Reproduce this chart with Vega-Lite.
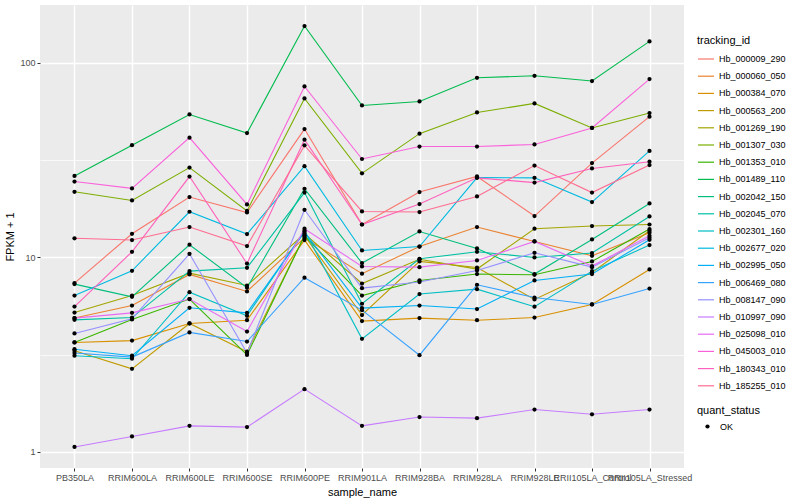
{
  "$schema": "https://vega.github.io/schema/vega-lite/v6.json",
  "width": 644,
  "height": 463,
  "autosize": {"type": "none"},
  "padding": {"left": 40, "top": 5, "right": 116, "bottom": 32},
  "background": "white",
  "config": {
    "font": "Liberation Sans",
    "view": {"fill": "#EBEBEB", "stroke": null},
    "axis": {"domain": false, "tickColor": "#333333", "tickSize": 3, "labelColor": "#4D4D4D", "labelFontSize": 9, "titleFontSize": 11, "titleColor": "#000000", "titleFontWeight": "normal", "gridColor": "#FFFFFF", "labelPadding": 2},
    "legend": {"titleFontSize": 11, "titleFontWeight": "normal", "titleColor": "#000000", "labelFontSize": 9, "labelColor": "#000000", "padding": 0}
  },
  "data": {"values": [
    {"tracking_id":"Hb_000009_290","sample_name":"PB350LA","FPKM":7.37,"quant_status":"OK"},
    {"tracking_id":"Hb_000009_290","sample_name":"RRIM600LA","FPKM":13.21,"quant_status":"OK"},
    {"tracking_id":"Hb_000009_290","sample_name":"RRIM600LE","FPKM":20.39,"quant_status":"OK"},
    {"tracking_id":"Hb_000009_290","sample_name":"RRIM600SE","FPKM":16.99,"quant_status":"OK"},
    {"tracking_id":"Hb_000009_290","sample_name":"RRIM600PE","FPKM":45.6,"quant_status":"OK"},
    {"tracking_id":"Hb_000009_290","sample_name":"RRIM901LA","FPKM":14.74,"quant_status":"OK"},
    {"tracking_id":"Hb_000009_290","sample_name":"RRIM928BA","FPKM":21.64,"quant_status":"OK"},
    {"tracking_id":"Hb_000009_290","sample_name":"RRIM928LA","FPKM":26.03,"quant_status":"OK"},
    {"tracking_id":"Hb_000009_290","sample_name":"RRIM928LE","FPKM":16.29,"quant_status":"OK"},
    {"tracking_id":"Hb_000009_290","sample_name":"RRII105LA_Control","FPKM":30.5,"quant_status":"OK"},
    {"tracking_id":"Hb_000009_290","sample_name":"RRII105LA_Stressed","FPKM":52.8,"quant_status":"OK"},

    {"tracking_id":"Hb_000060_050","sample_name":"PB350LA","FPKM":4.87,"quant_status":"OK"},
    {"tracking_id":"Hb_000060_050","sample_name":"RRIM600LA","FPKM":5.65,"quant_status":"OK"},
    {"tracking_id":"Hb_000060_050","sample_name":"RRIM600LE","FPKM":8.16,"quant_status":"OK"},
    {"tracking_id":"Hb_000060_050","sample_name":"RRIM600SE","FPKM":6.67,"quant_status":"OK"},
    {"tracking_id":"Hb_000060_050","sample_name":"RRIM600PE","FPKM":12.6,"quant_status":"OK"},
    {"tracking_id":"Hb_000060_050","sample_name":"RRIM901LA","FPKM":8.23,"quant_status":"OK"},
    {"tracking_id":"Hb_000060_050","sample_name":"RRIM928BA","FPKM":11.36,"quant_status":"OK"},
    {"tracking_id":"Hb_000060_050","sample_name":"RRIM928LA","FPKM":14.3,"quant_status":"OK"},
    {"tracking_id":"Hb_000060_050","sample_name":"RRIM928LE","FPKM":12.06,"quant_status":"OK"},
    {"tracking_id":"Hb_000060_050","sample_name":"RRII105LA_Control","FPKM":10.18,"quant_status":"OK"},
    {"tracking_id":"Hb_000060_050","sample_name":"RRII105LA_Stressed","FPKM":13.37,"quant_status":"OK"},

    {"tracking_id":"Hb_000384_070","sample_name":"PB350LA","FPKM":3.65,"quant_status":"OK"},
    {"tracking_id":"Hb_000384_070","sample_name":"RRIM600LA","FPKM":3.73,"quant_status":"OK"},
    {"tracking_id":"Hb_000384_070","sample_name":"RRIM600LE","FPKM":4.57,"quant_status":"OK"},
    {"tracking_id":"Hb_000384_070","sample_name":"RRIM600SE","FPKM":4.75,"quant_status":"OK"},
    {"tracking_id":"Hb_000384_070","sample_name":"RRIM600PE","FPKM":12.26,"quant_status":"OK"},
    {"tracking_id":"Hb_000384_070","sample_name":"RRIM901LA","FPKM":4.70,"quant_status":"OK"},
    {"tracking_id":"Hb_000384_070","sample_name":"RRIM928BA","FPKM":4.87,"quant_status":"OK"},
    {"tracking_id":"Hb_000384_070","sample_name":"RRIM928LA","FPKM":4.75,"quant_status":"OK"},
    {"tracking_id":"Hb_000384_070","sample_name":"RRIM928LE","FPKM":4.90,"quant_status":"OK"},
    {"tracking_id":"Hb_000384_070","sample_name":"RRII105LA_Control","FPKM":5.72,"quant_status":"OK"},
    {"tracking_id":"Hb_000384_070","sample_name":"RRII105LA_Stressed","FPKM":8.66,"quant_status":"OK"},

    {"tracking_id":"Hb_000563_200","sample_name":"PB350LA","FPKM":3.31,"quant_status":"OK"},
    {"tracking_id":"Hb_000563_200","sample_name":"RRIM600LA","FPKM":2.67,"quant_status":"OK"},
    {"tracking_id":"Hb_000563_200","sample_name":"RRIM600LE","FPKM":4.57,"quant_status":"OK"},
    {"tracking_id":"Hb_000563_200","sample_name":"RRIM600SE","FPKM":3.27,"quant_status":"OK"},
    {"tracking_id":"Hb_000563_200","sample_name":"RRIM600PE","FPKM":12.9,"quant_status":"OK"},
    {"tracking_id":"Hb_000563_200","sample_name":"RRIM901LA","FPKM":5.05,"quant_status":"OK"},
    {"tracking_id":"Hb_000563_200","sample_name":"RRIM928BA","FPKM":9.52,"quant_status":"OK"},
    {"tracking_id":"Hb_000563_200","sample_name":"RRIM928LA","FPKM":8.86,"quant_status":"OK"},
    {"tracking_id":"Hb_000563_200","sample_name":"RRIM928LE","FPKM":6.07,"quant_status":"OK"},
    {"tracking_id":"Hb_000563_200","sample_name":"RRII105LA_Control","FPKM":8.35,"quant_status":"OK"},
    {"tracking_id":"Hb_000563_200","sample_name":"RRII105LA_Stressed","FPKM":13.68,"quant_status":"OK"},

    {"tracking_id":"Hb_001269_190","sample_name":"PB350LA","FPKM":5.20,"quant_status":"OK"},
    {"tracking_id":"Hb_001269_190","sample_name":"RRIM600LA","FPKM":6.36,"quant_status":"OK"},
    {"tracking_id":"Hb_001269_190","sample_name":"RRIM600LE","FPKM":8.29,"quant_status":"OK"},
    {"tracking_id":"Hb_001269_190","sample_name":"RRIM600SE","FPKM":7.16,"quant_status":"OK"},
    {"tracking_id":"Hb_001269_190","sample_name":"RRIM600PE","FPKM":13.21,"quant_status":"OK"},
    {"tracking_id":"Hb_001269_190","sample_name":"RRIM901LA","FPKM":7.33,"quant_status":"OK"},
    {"tracking_id":"Hb_001269_190","sample_name":"RRIM928BA","FPKM":9.77,"quant_status":"OK"},
    {"tracking_id":"Hb_001269_190","sample_name":"RRIM928LA","FPKM":8.70,"quant_status":"OK"},
    {"tracking_id":"Hb_001269_190","sample_name":"RRIM928LE","FPKM":14.02,"quant_status":"OK"},
    {"tracking_id":"Hb_001269_190","sample_name":"RRII105LA_Control","FPKM":14.47,"quant_status":"OK"},
    {"tracking_id":"Hb_001269_190","sample_name":"RRII105LA_Stressed","FPKM":14.74,"quant_status":"OK"},

    {"tracking_id":"Hb_001307_030","sample_name":"PB350LA","FPKM":21.7,"quant_status":"OK"},
    {"tracking_id":"Hb_001307_030","sample_name":"RRIM600LA","FPKM":19.6,"quant_status":"OK"},
    {"tracking_id":"Hb_001307_030","sample_name":"RRIM600LE","FPKM":28.9,"quant_status":"OK"},
    {"tracking_id":"Hb_001307_030","sample_name":"RRIM600SE","FPKM":17.3,"quant_status":"OK"},
    {"tracking_id":"Hb_001307_030","sample_name":"RRIM600PE","FPKM":65.5,"quant_status":"OK"},
    {"tracking_id":"Hb_001307_030","sample_name":"RRIM901LA","FPKM":27.0,"quant_status":"OK"},
    {"tracking_id":"Hb_001307_030","sample_name":"RRIM928BA","FPKM":43.2,"quant_status":"OK"},
    {"tracking_id":"Hb_001307_030","sample_name":"RRIM928LA","FPKM":55.5,"quant_status":"OK"},
    {"tracking_id":"Hb_001307_030","sample_name":"RRIM928LE","FPKM":61.8,"quant_status":"OK"},
    {"tracking_id":"Hb_001307_030","sample_name":"RRII105LA_Control","FPKM":46.2,"quant_status":"OK"},
    {"tracking_id":"Hb_001307_030","sample_name":"RRII105LA_Stressed","FPKM":55.1,"quant_status":"OK"},

    {"tracking_id":"Hb_001353_010","sample_name":"PB350LA","FPKM":3.65,"quant_status":"OK"},
    {"tracking_id":"Hb_001353_010","sample_name":"RRIM600LA","FPKM":4.79,"quant_status":"OK"},
    {"tracking_id":"Hb_001353_010","sample_name":"RRIM600LE","FPKM":6.10,"quant_status":"OK"},
    {"tracking_id":"Hb_001353_010","sample_name":"RRIM600SE","FPKM":3.15,"quant_status":"OK"},
    {"tracking_id":"Hb_001353_010","sample_name":"RRIM600PE","FPKM":12.9,"quant_status":"OK"},
    {"tracking_id":"Hb_001353_010","sample_name":"RRIM901LA","FPKM":6.36,"quant_status":"OK"},
    {"tracking_id":"Hb_001353_010","sample_name":"RRIM928BA","FPKM":7.60,"quant_status":"OK"},
    {"tracking_id":"Hb_001353_010","sample_name":"RRIM928LA","FPKM":8.20,"quant_status":"OK"},
    {"tracking_id":"Hb_001353_010","sample_name":"RRIM928LE","FPKM":8.13,"quant_status":"OK"},
    {"tracking_id":"Hb_001353_010","sample_name":"RRII105LA_Control","FPKM":9.52,"quant_status":"OK"},
    {"tracking_id":"Hb_001353_010","sample_name":"RRII105LA_Stressed","FPKM":13.96,"quant_status":"OK"},

    {"tracking_id":"Hb_001489_110","sample_name":"PB350LA","FPKM":26.2,"quant_status":"OK"},
    {"tracking_id":"Hb_001489_110","sample_name":"RRIM600LA","FPKM":37.7,"quant_status":"OK"},
    {"tracking_id":"Hb_001489_110","sample_name":"RRIM600LE","FPKM":54.2,"quant_status":"OK"},
    {"tracking_id":"Hb_001489_110","sample_name":"RRIM600SE","FPKM":43.5,"quant_status":"OK"},
    {"tracking_id":"Hb_001489_110","sample_name":"RRIM600PE","FPKM":154.4,"quant_status":"OK"},
    {"tracking_id":"Hb_001489_110","sample_name":"RRIM901LA","FPKM":60.3,"quant_status":"OK"},
    {"tracking_id":"Hb_001489_110","sample_name":"RRIM928BA","FPKM":63.2,"quant_status":"OK"},
    {"tracking_id":"Hb_001489_110","sample_name":"RRIM928LA","FPKM":83.7,"quant_status":"OK"},
    {"tracking_id":"Hb_001489_110","sample_name":"RRIM928LE","FPKM":85.7,"quant_status":"OK"},
    {"tracking_id":"Hb_001489_110","sample_name":"RRII105LA_Control","FPKM":80.5,"quant_status":"OK"},
    {"tracking_id":"Hb_001489_110","sample_name":"RRII105LA_Stressed","FPKM":128.7,"quant_status":"OK"},

    {"tracking_id":"Hb_002042_150","sample_name":"PB350LA","FPKM":7.28,"quant_status":"OK"},
    {"tracking_id":"Hb_002042_150","sample_name":"RRIM600LA","FPKM":6.26,"quant_status":"OK"},
    {"tracking_id":"Hb_002042_150","sample_name":"RRIM600LE","FPKM":11.6,"quant_status":"OK"},
    {"tracking_id":"Hb_002042_150","sample_name":"RRIM600SE","FPKM":6.97,"quant_status":"OK"},
    {"tracking_id":"Hb_002042_150","sample_name":"RRIM600PE","FPKM":22.5,"quant_status":"OK"},
    {"tracking_id":"Hb_002042_150","sample_name":"RRIM901LA","FPKM":9.34,"quant_status":"OK"},
    {"tracking_id":"Hb_002042_150","sample_name":"RRIM928BA","FPKM":13.57,"quant_status":"OK"},
    {"tracking_id":"Hb_002042_150","sample_name":"RRIM928LA","FPKM":11.1,"quant_status":"OK"},
    {"tracking_id":"Hb_002042_150","sample_name":"RRIM928LE","FPKM":8.2,"quant_status":"OK"},
    {"tracking_id":"Hb_002042_150","sample_name":"RRII105LA_Control","FPKM":12.35,"quant_status":"OK"},
    {"tracking_id":"Hb_002042_150","sample_name":"RRII105LA_Stressed","FPKM":18.91,"quant_status":"OK"},

    {"tracking_id":"Hb_002045_070","sample_name":"PB350LA","FPKM":4.77,"quant_status":"OK"},
    {"tracking_id":"Hb_002045_070","sample_name":"RRIM600LA","FPKM":4.90,"quant_status":"OK"},
    {"tracking_id":"Hb_002045_070","sample_name":"RRIM600LE","FPKM":8.49,"quant_status":"OK"},
    {"tracking_id":"Hb_002045_070","sample_name":"RRIM600SE","FPKM":8.83,"quant_status":"OK"},
    {"tracking_id":"Hb_002045_070","sample_name":"RRIM600PE","FPKM":21.5,"quant_status":"OK"},
    {"tracking_id":"Hb_002045_070","sample_name":"RRIM901LA","FPKM":5.77,"quant_status":"OK"},
    {"tracking_id":"Hb_002045_070","sample_name":"RRIM928BA","FPKM":9.82,"quant_status":"OK"},
    {"tracking_id":"Hb_002045_070","sample_name":"RRIM928LA","FPKM":10.67,"quant_status":"OK"},
    {"tracking_id":"Hb_002045_070","sample_name":"RRIM928LE","FPKM":9.98,"quant_status":"OK"},
    {"tracking_id":"Hb_002045_070","sample_name":"RRII105LA_Control","FPKM":10.51,"quant_status":"OK"},
    {"tracking_id":"Hb_002045_070","sample_name":"RRII105LA_Stressed","FPKM":16.21,"quant_status":"OK"},

    {"tracking_id":"Hb_002301_160","sample_name":"PB350LA","FPKM":3.12,"quant_status":"OK"},
    {"tracking_id":"Hb_002301_160","sample_name":"RRIM600LA","FPKM":3.01,"quant_status":"OK"},
    {"tracking_id":"Hb_002301_160","sample_name":"RRIM600LE","FPKM":6.62,"quant_status":"OK"},
    {"tracking_id":"Hb_002301_160","sample_name":"RRIM600SE","FPKM":5.00,"quant_status":"OK"},
    {"tracking_id":"Hb_002301_160","sample_name":"RRIM600PE","FPKM":13.68,"quant_status":"OK"},
    {"tracking_id":"Hb_002301_160","sample_name":"RRIM901LA","FPKM":3.81,"quant_status":"OK"},
    {"tracking_id":"Hb_002301_160","sample_name":"RRIM928BA","FPKM":6.47,"quant_status":"OK"},
    {"tracking_id":"Hb_002301_160","sample_name":"RRIM928LA","FPKM":6.86,"quant_status":"OK"},
    {"tracking_id":"Hb_002301_160","sample_name":"RRIM928LE","FPKM":5.57,"quant_status":"OK"},
    {"tracking_id":"Hb_002301_160","sample_name":"RRII105LA_Control","FPKM":8.49,"quant_status":"OK"},
    {"tracking_id":"Hb_002301_160","sample_name":"RRII105LA_Stressed","FPKM":11.55,"quant_status":"OK"},

    {"tracking_id":"Hb_002677_020","sample_name":"PB350LA","FPKM":6.36,"quant_status":"OK"},
    {"tracking_id":"Hb_002677_020","sample_name":"RRIM600LA","FPKM":8.52,"quant_status":"OK"},
    {"tracking_id":"Hb_002677_020","sample_name":"RRIM600LE","FPKM":17.14,"quant_status":"OK"},
    {"tracking_id":"Hb_002677_020","sample_name":"RRIM600SE","FPKM":13.16,"quant_status":"OK"},
    {"tracking_id":"Hb_002677_020","sample_name":"RRIM600PE","FPKM":29.4,"quant_status":"OK"},
    {"tracking_id":"Hb_002677_020","sample_name":"RRIM901LA","FPKM":10.84,"quant_status":"OK"},
    {"tracking_id":"Hb_002677_020","sample_name":"RRIM928BA","FPKM":11.36,"quant_status":"OK"},
    {"tracking_id":"Hb_002677_020","sample_name":"RRIM928LA","FPKM":25.7,"quant_status":"OK"},
    {"tracking_id":"Hb_002677_020","sample_name":"RRIM928LE","FPKM":25.6,"quant_status":"OK"},
    {"tracking_id":"Hb_002677_020","sample_name":"RRII105LA_Control","FPKM":19.22,"quant_status":"OK"},
    {"tracking_id":"Hb_002677_020","sample_name":"RRII105LA_Stressed","FPKM":35.2,"quant_status":"OK"},

    {"tracking_id":"Hb_002995_050","sample_name":"PB350LA","FPKM":3.37,"quant_status":"OK"},
    {"tracking_id":"Hb_002995_050","sample_name":"RRIM600LA","FPKM":3.12,"quant_status":"OK"},
    {"tracking_id":"Hb_002995_050","sample_name":"RRIM600LE","FPKM":5.50,"quant_status":"OK"},
    {"tracking_id":"Hb_002995_050","sample_name":"RRIM600SE","FPKM":5.18,"quant_status":"OK"},
    {"tracking_id":"Hb_002995_050","sample_name":"RRIM600PE","FPKM":13.5,"quant_status":"OK"},
    {"tracking_id":"Hb_002995_050","sample_name":"RRIM901LA","FPKM":5.48,"quant_status":"OK"},
    {"tracking_id":"Hb_002995_050","sample_name":"RRIM928BA","FPKM":5.65,"quant_status":"OK"},
    {"tracking_id":"Hb_002995_050","sample_name":"RRIM928LA","FPKM":5.42,"quant_status":"OK"},
    {"tracking_id":"Hb_002995_050","sample_name":"RRIM928LE","FPKM":7.60,"quant_status":"OK"},
    {"tracking_id":"Hb_002995_050","sample_name":"RRII105LA_Control","FPKM":8.20,"quant_status":"OK"},
    {"tracking_id":"Hb_002995_050","sample_name":"RRII105LA_Stressed","FPKM":12.3,"quant_status":"OK"},

    {"tracking_id":"Hb_006469_080","sample_name":"PB350LA","FPKM":3.22,"quant_status":"OK"},
    {"tracking_id":"Hb_006469_080","sample_name":"RRIM600LA","FPKM":3.07,"quant_status":"OK"},
    {"tracking_id":"Hb_006469_080","sample_name":"RRIM600LE","FPKM":4.11,"quant_status":"OK"},
    {"tracking_id":"Hb_006469_080","sample_name":"RRIM600SE","FPKM":3.69,"quant_status":"OK"},
    {"tracking_id":"Hb_006469_080","sample_name":"RRIM600PE","FPKM":7.85,"quant_status":"OK"},
    {"tracking_id":"Hb_006469_080","sample_name":"RRIM901LA","FPKM":5.35,"quant_status":"OK"},
    {"tracking_id":"Hb_006469_080","sample_name":"RRIM928BA","FPKM":3.14,"quant_status":"OK"},
    {"tracking_id":"Hb_006469_080","sample_name":"RRIM928LA","FPKM":7.22,"quant_status":"OK"},
    {"tracking_id":"Hb_006469_080","sample_name":"RRIM928LE","FPKM":6.21,"quant_status":"OK"},
    {"tracking_id":"Hb_006469_080","sample_name":"RRII105LA_Control","FPKM":5.72,"quant_status":"OK"},
    {"tracking_id":"Hb_006469_080","sample_name":"RRII105LA_Stressed","FPKM":6.91,"quant_status":"OK"},

    {"tracking_id":"Hb_008147_090","sample_name":"PB350LA","FPKM":4.06,"quant_status":"OK"},
    {"tracking_id":"Hb_008147_090","sample_name":"RRIM600LA","FPKM":4.83,"quant_status":"OK"},
    {"tracking_id":"Hb_008147_090","sample_name":"RRIM600LE","FPKM":10.42,"quant_status":"OK"},
    {"tracking_id":"Hb_008147_090","sample_name":"RRIM600SE","FPKM":3.22,"quant_status":"OK"},
    {"tracking_id":"Hb_008147_090","sample_name":"RRIM600PE","FPKM":17.55,"quant_status":"OK"},
    {"tracking_id":"Hb_008147_090","sample_name":"RRIM901LA","FPKM":6.94,"quant_status":"OK"},
    {"tracking_id":"Hb_008147_090","sample_name":"RRIM928BA","FPKM":7.46,"quant_status":"OK"},
    {"tracking_id":"Hb_008147_090","sample_name":"RRIM928LA","FPKM":8.55,"quant_status":"OK"},
    {"tracking_id":"Hb_008147_090","sample_name":"RRIM928LE","FPKM":10.55,"quant_status":"OK"},
    {"tracking_id":"Hb_008147_090","sample_name":"RRII105LA_Control","FPKM":8.90,"quant_status":"OK"},
    {"tracking_id":"Hb_008147_090","sample_name":"RRII105LA_Stressed","FPKM":12.6,"quant_status":"OK"},

    {"tracking_id":"Hb_010997_090","sample_name":"PB350LA","FPKM":1.06,"quant_status":"OK"},
    {"tracking_id":"Hb_010997_090","sample_name":"RRIM600LA","FPKM":1.20,"quant_status":"OK"},
    {"tracking_id":"Hb_010997_090","sample_name":"RRIM600LE","FPKM":1.36,"quant_status":"OK"},
    {"tracking_id":"Hb_010997_090","sample_name":"RRIM600SE","FPKM":1.34,"quant_status":"OK"},
    {"tracking_id":"Hb_010997_090","sample_name":"RRIM600PE","FPKM":2.10,"quant_status":"OK"},
    {"tracking_id":"Hb_010997_090","sample_name":"RRIM901LA","FPKM":1.36,"quant_status":"OK"},
    {"tracking_id":"Hb_010997_090","sample_name":"RRIM928BA","FPKM":1.51,"quant_status":"OK"},
    {"tracking_id":"Hb_010997_090","sample_name":"RRIM928LA","FPKM":1.49,"quant_status":"OK"},
    {"tracking_id":"Hb_010997_090","sample_name":"RRIM928LE","FPKM":1.65,"quant_status":"OK"},
    {"tracking_id":"Hb_010997_090","sample_name":"RRII105LA_Control","FPKM":1.56,"quant_status":"OK"},
    {"tracking_id":"Hb_010997_090","sample_name":"RRII105LA_Stressed","FPKM":1.65,"quant_status":"OK"},

    {"tracking_id":"Hb_025098_010","sample_name":"PB350LA","FPKM":4.87,"quant_status":"OK"},
    {"tracking_id":"Hb_025098_010","sample_name":"RRIM600LA","FPKM":5.18,"quant_status":"OK"},
    {"tracking_id":"Hb_025098_010","sample_name":"RRIM600LE","FPKM":6.10,"quant_status":"OK"},
    {"tracking_id":"Hb_025098_010","sample_name":"RRIM600SE","FPKM":4.15,"quant_status":"OK"},
    {"tracking_id":"Hb_025098_010","sample_name":"RRIM600PE","FPKM":14.02,"quant_status":"OK"},
    {"tracking_id":"Hb_025098_010","sample_name":"RRIM901LA","FPKM":8.97,"quant_status":"OK"},
    {"tracking_id":"Hb_025098_010","sample_name":"RRIM928BA","FPKM":8.90,"quant_status":"OK"},
    {"tracking_id":"Hb_025098_010","sample_name":"RRIM928LA","FPKM":9.63,"quant_status":"OK"},
    {"tracking_id":"Hb_025098_010","sample_name":"RRIM928LE","FPKM":12.06,"quant_status":"OK"},
    {"tracking_id":"Hb_025098_010","sample_name":"RRII105LA_Control","FPKM":9.01,"quant_status":"OK"},
    {"tracking_id":"Hb_025098_010","sample_name":"RRII105LA_Stressed","FPKM":12.9,"quant_status":"OK"},

    {"tracking_id":"Hb_045003_010","sample_name":"PB350LA","FPKM":24.5,"quant_status":"OK"},
    {"tracking_id":"Hb_045003_010","sample_name":"RRIM600LA","FPKM":22.6,"quant_status":"OK"},
    {"tracking_id":"Hb_045003_010","sample_name":"RRIM600LE","FPKM":41.2,"quant_status":"OK"},
    {"tracking_id":"Hb_045003_010","sample_name":"RRIM600SE","FPKM":18.7,"quant_status":"OK"},
    {"tracking_id":"Hb_045003_010","sample_name":"RRIM600PE","FPKM":75.5,"quant_status":"OK"},
    {"tracking_id":"Hb_045003_010","sample_name":"RRIM901LA","FPKM":32.0,"quant_status":"OK"},
    {"tracking_id":"Hb_045003_010","sample_name":"RRIM928BA","FPKM":37.1,"quant_status":"OK"},
    {"tracking_id":"Hb_045003_010","sample_name":"RRIM928LA","FPKM":37.1,"quant_status":"OK"},
    {"tracking_id":"Hb_045003_010","sample_name":"RRIM928LE","FPKM":38.0,"quant_status":"OK"},
    {"tracking_id":"Hb_045003_010","sample_name":"RRII105LA_Control","FPKM":46.2,"quant_status":"OK"},
    {"tracking_id":"Hb_045003_010","sample_name":"RRII105LA_Stressed","FPKM":82.4,"quant_status":"OK"},

    {"tracking_id":"Hb_180343_010","sample_name":"PB350LA","FPKM":5.58,"quant_status":"OK"},
    {"tracking_id":"Hb_180343_010","sample_name":"RRIM600LA","FPKM":10.67,"quant_status":"OK"},
    {"tracking_id":"Hb_180343_010","sample_name":"RRIM600LE","FPKM":26.0,"quant_status":"OK"},
    {"tracking_id":"Hb_180343_010","sample_name":"RRIM600SE","FPKM":9.29,"quant_status":"OK"},
    {"tracking_id":"Hb_180343_010","sample_name":"RRIM600PE","FPKM":40.2,"quant_status":"OK"},
    {"tracking_id":"Hb_180343_010","sample_name":"RRIM901LA","FPKM":14.74,"quant_status":"OK"},
    {"tracking_id":"Hb_180343_010","sample_name":"RRIM928BA","FPKM":18.77,"quant_status":"OK"},
    {"tracking_id":"Hb_180343_010","sample_name":"RRIM928LA","FPKM":25.6,"quant_status":"OK"},
    {"tracking_id":"Hb_180343_010","sample_name":"RRIM928LE","FPKM":24.2,"quant_status":"OK"},
    {"tracking_id":"Hb_180343_010","sample_name":"RRII105LA_Control","FPKM":28.6,"quant_status":"OK"},
    {"tracking_id":"Hb_180343_010","sample_name":"RRII105LA_Stressed","FPKM":31.0,"quant_status":"OK"},

    {"tracking_id":"Hb_185255_010","sample_name":"PB350LA","FPKM":12.52,"quant_status":"OK"},
    {"tracking_id":"Hb_185255_010","sample_name":"RRIM600LA","FPKM":12.26,"quant_status":"OK"},
    {"tracking_id":"Hb_185255_010","sample_name":"RRIM600LE","FPKM":14.3,"quant_status":"OK"},
    {"tracking_id":"Hb_185255_010","sample_name":"RRIM600SE","FPKM":11.42,"quant_status":"OK"},
    {"tracking_id":"Hb_185255_010","sample_name":"RRIM600PE","FPKM":37.6,"quant_status":"OK"},
    {"tracking_id":"Hb_185255_010","sample_name":"RRIM901LA","FPKM":17.2,"quant_status":"OK"},
    {"tracking_id":"Hb_185255_010","sample_name":"RRIM928BA","FPKM":17.08,"quant_status":"OK"},
    {"tracking_id":"Hb_185255_010","sample_name":"RRIM928LA","FPKM":20.54,"quant_status":"OK"},
    {"tracking_id":"Hb_185255_010","sample_name":"RRIM928LE","FPKM":29.6,"quant_status":"OK"},
    {"tracking_id":"Hb_185255_010","sample_name":"RRII105LA_Control","FPKM":21.5,"quant_status":"OK"},
    {"tracking_id":"Hb_185255_010","sample_name":"RRII105LA_Stressed","FPKM":29.8,"quant_status":"OK"}
  ]},
  "encoding": {
    "x": {
      "field": "sample_name", "type": "nominal",
      "sort": ["PB350LA","RRIM600LA","RRIM600LE","RRIM600SE","RRIM600PE","RRIM901LA","RRIM928BA","RRIM928LA","RRIM928LE","RRII105LA_Control","RRII105LA_Stressed"],
      "scale": {"type": "point", "padding": 0.6},
      "axis": {"title": "sample_name", "labelAngle": 0, "labelOverlap": false, "labelBound": false, "grid": true, "gridWidth": 1.4, "titlePadding": 4}
    },
    "y": {
      "field": "FPKM", "type": "quantitative",
      "scale": {"type": "log", "domain": [0.826, 198], "nice": false},
      "axis": {
        "title": "FPKM + 1",
        "values": [1, 3.1623, 10, 31.623, 100],
        "format": "d",
        "labelExpr": "(datum.value == 1 || datum.value == 10 || datum.value == 100) ? datum.label : ''",
        "grid": true,
        "gridWidth": {"condition": {"test": "datum.value == 1 || datum.value == 10 || datum.value == 100", "value": 1.4}, "value": 0.7},
        "tickOpacity": {"condition": {"test": "datum.value == 1 || datum.value == 10 || datum.value == 100", "value": 1}, "value": 0},
        "titlePadding": 4
      }
    }
  },
  "layer": [
    {
      "mark": {"type": "line", "strokeWidth": 1.1},
      "encoding": {
        "order": {"value": null},
        "color": {
          "field": "tracking_id", "type": "nominal",
          "scale": {
            "domain": ["Hb_000009_290","Hb_000060_050","Hb_000384_070","Hb_000563_200","Hb_001269_190","Hb_001307_030","Hb_001353_010","Hb_001489_110","Hb_002042_150","Hb_002045_070","Hb_002301_160","Hb_002677_020","Hb_002995_050","Hb_006469_080","Hb_008147_090","Hb_010997_090","Hb_025098_010","Hb_045003_010","Hb_180343_010","Hb_185255_010"],
            "range": ["#F8766D","#EA8331","#D89000","#C09B00","#A3A500","#7CAE00","#39B600","#00BB4E","#00BF7D","#00C1A3","#00BFC4","#00BAE0","#00B0F6","#35A2FF","#9590FF","#C77CFF","#E76BF3","#FA62DB","#FF62BC","#FF6C91"]
          },
          "legend": {"title": "tracking_id", "orient": "none", "legendX": 657, "legendY": 30, "symbolType": "stroke", "symbolSize": 256, "symbolStrokeWidth": 1.2, "rowPadding": 3.2, "labelOffset": 4, "titlePadding": 4}
        }
      }
    },
    {
      "mark": {"type": "point", "filled": true, "color": "black", "size": 18, "opacity": 1},
      "encoding": {
        "shape": {
          "field": "quant_status", "type": "nominal",
          "scale": {"range": ["circle"]},
          "legend": {"title": "quant_status", "orient": "none", "legendX": 657, "legendY": 400, "symbolSize": 18, "symbolFillColor": "black", "symbolStrokeColor": "black", "symbolOffset": 6, "labelOffset": 8, "titlePadding": 6}
        }
      }
    }
  ]
}
